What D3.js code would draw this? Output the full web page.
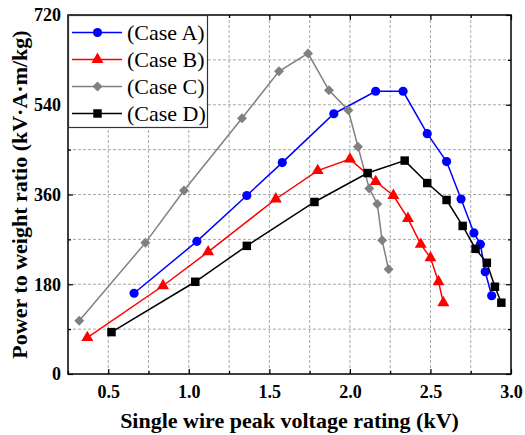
<!DOCTYPE html>
<html>
<head>
<meta charset="utf-8">
<script src="https://cdn.jsdelivr.net/npm/d3@7"></script>
<style>
  html, body { margin: 0; padding: 0; background: #fff; }
  svg { display: block; }
  text { font-family: "Liberation Serif", "Times New Roman", serif; }
</style>
</head>
<body>
<svg id="chart" width="525" height="435"></svg>
<script>
// Series: single wire peak voltage (kV) vs power-to-weight ratio (kV·A·m/kg)
const caseAX = [0.66, 1.05, 1.36, 1.58, 1.90, 2.16, 2.33, 2.48, 2.60, 2.69, 2.77, 2.81, 2.84, 2.88];
const caseAY = [162, 266, 358, 424, 522, 567, 567, 482, 426, 351, 283, 260, 205, 157];

const caseBX = [0.37, 0.84, 1.12, 1.54, 1.80, 2.00, 2.16, 2.27, 2.36, 2.44, 2.50, 2.55, 2.58];
const caseBY = [73, 177, 245, 351, 408, 431, 386, 358, 312, 260, 233, 185, 143];

const caseCX = [0.32, 0.73, 0.97, 1.33, 1.56, 1.74, 1.87, 1.99, 2.05, 2.12, 2.17, 2.20, 2.24];
const caseCY = [107, 263, 368, 513, 607, 643, 569, 529, 456, 372, 341, 268, 210];

const caseDX = [0.52, 1.04, 1.36, 1.78, 2.11, 2.34, 2.48, 2.60, 2.70, 2.78, 2.85, 2.90, 2.94];
const caseDY = [84, 185, 257, 345, 403, 428, 383, 349, 297, 251, 223, 175, 143];

const seriesNames = ["(Case A)", "(Case B)", "(Case C)", "(Case D)"];
const xTicks = [0.5, 1.0, 1.5, 2.0, 2.5, 3.0];
const yTicks = [0, 180, 360, 540, 720];

// Diamonds are squares turned by 45 degrees
const series = [
  { name: seriesNames[0], xs: caseAX, ys: caseAY, color: "#0000ff", symbol: d3.symbolCircle, size: 66, rot: 0 },
  { name: seriesNames[1], xs: caseBX, ys: caseBY, color: "#ff0000", symbol: d3.symbolTriangle, size: 62, rot: 0 },
  { name: seriesNames[2], xs: caseCX, ys: caseCY, color: "#808080", symbol: d3.symbolSquare, size: 50, rot: 45 },
  { name: seriesNames[3], xs: caseDX, ys: caseDY, color: "#000000", symbol: d3.symbolSquare, size: 72, rot: 0 }
];

const plotL = 68, plotR = 511, plotT = 15, plotB = 374;
const svg = d3.select("#chart");

const x = d3.scaleLinear().domain([0.25, 3.0]).range([plotL, plotR]);
const y = d3.scaleLinear().domain([0, 720]).range([plotB, plotT]);

// Dashed grid at every major and minor step
const gridX = d3.range(0.5, 3.0, 0.25);
const gridY = d3.range(90, 720, 90);
const grid = svg.append("g").attr("stroke", "#a8a8a8").attr("stroke-width", 1).attr("stroke-dasharray", "3,2");
grid.selectAll("line.gx").data(gridX).join("line").attr("class", "gx")
  .attr("x1", d => x(d)).attr("x2", d => x(d)).attr("y1", plotT).attr("y2", plotB);
grid.selectAll("line.gy").data(gridY).join("line").attr("class", "gy")
  .attr("y1", d => y(d)).attr("y2", d => y(d)).attr("x1", plotL).attr("x2", plotR);

// Axes with inward ticks on all four sides
const minorX = d3.range(0.25, 3.01, 0.25).filter(v => Math.abs(v * 2 - Math.round(v * 2)) > 1e-6);
const minorY = d3.range(90, 720, 180);

function styleAxis(g) {
  g.select(".domain").remove();
  g.selectAll("line").attr("stroke", "#000").attr("stroke-width", 1.2);
  g.selectAll("text").attr("font-weight", "bold").attr("font-size", 18).attr("fill", "#000");
}

svg.append("g").attr("transform", `translate(0,${plotB})`)
  .call(d3.axisBottom(x).tickValues(xTicks).tickFormat(d3.format(".1f")).tickSizeInner(-5).tickSizeOuter(0).tickPadding(11))
  .call(styleAxis);
svg.append("g").attr("transform", `translate(0,${plotB})`)
  .call(d3.axisBottom(x).tickValues(minorX).tickFormat("").tickSizeInner(-3).tickSizeOuter(0))
  .call(styleAxis);
svg.append("g").attr("transform", `translate(0,${plotT})`)
  .call(d3.axisTop(x).tickValues(xTicks).tickFormat("").tickSizeInner(-5).tickSizeOuter(0))
  .call(styleAxis);
svg.append("g").attr("transform", `translate(0,${plotT})`)
  .call(d3.axisTop(x).tickValues(minorX).tickFormat("").tickSizeInner(-3).tickSizeOuter(0))
  .call(styleAxis);

svg.append("g").attr("transform", `translate(${plotL},0)`)
  .call(d3.axisLeft(y).tickValues(yTicks).tickSizeInner(-5).tickSizeOuter(0).tickPadding(7))
  .call(styleAxis);
svg.append("g").attr("transform", `translate(${plotL},0)`)
  .call(d3.axisLeft(y).tickValues(minorY).tickFormat("").tickSizeInner(-3).tickSizeOuter(0))
  .call(styleAxis);
svg.append("g").attr("transform", `translate(${plotR},0)`)
  .call(d3.axisRight(y).tickValues(yTicks).tickFormat("").tickSizeInner(-5).tickSizeOuter(0))
  .call(styleAxis);
svg.append("g").attr("transform", `translate(${plotR},0)`)
  .call(d3.axisRight(y).tickValues(minorY).tickFormat("").tickSizeInner(-3).tickSizeOuter(0))
  .call(styleAxis);

// Plot frame
svg.append("rect").attr("x", plotL).attr("y", plotT).attr("width", plotR - plotL).attr("height", plotB - plotT)
  .attr("fill", "none").attr("stroke", "#000").attr("stroke-width", 1.5);

// Series lines and markers
const line = d3.line().x(d => x(d[0])).y(d => y(d[1]));
series.forEach(s => {
  const pts = s.xs.map((v, i) => [v, s.ys[i]]);
  const g = svg.append("g");
  g.append("path").datum(pts).attr("d", line)
    .attr("fill", "none").attr("stroke", s.color).attr("stroke-width", 1.5);
  g.selectAll("path.m").data(pts).join("path").attr("class", "m")
    .attr("transform", d => `translate(${x(d[0])},${y(d[1])}) rotate(${s.rot})`)
    .attr("d", d3.symbol().type(s.symbol).size(s.size))
    .attr("fill", s.color);
});

// Legend
const lg = svg.append("g");
lg.append("rect").attr("x", plotL + 0.5).attr("y", plotT + 0.5).attr("width", 139).attr("height", 112)
  .attr("fill", "#fff").attr("stroke", "#333").attr("stroke-width", 1.2);
series.forEach((s, i) => {
  const cy = 32.5 + i * 27;
  lg.append("line").attr("x1", 72).attr("x2", 122).attr("y1", cy).attr("y2", cy)
    .attr("stroke", s.color).attr("stroke-width", 1.5);
  lg.append("path").attr("transform", `translate(97.5,${cy}) rotate(${s.rot})`)
    .attr("d", d3.symbol().type(s.symbol).size(s.size)).attr("fill", s.color);
  lg.append("text").attr("x", 127).attr("y", cy).attr("dy", "0.35em")
    .attr("font-size", 22).attr("fill", "#000").text(s.name);
});

// Axis titles
svg.append("text").attr("x", (plotL + plotR) / 2).attr("y", 428)
  .attr("text-anchor", "middle").attr("font-weight", "bold").attr("font-size", 22)
  .text("Single wire peak voltage rating (kV)");
svg.append("text").attr("transform", `translate(27,${(plotT + plotB) / 2}) rotate(-90)`)
  .attr("text-anchor", "middle").attr("font-weight", "bold").attr("font-size", 22)
  .text("Power to weight ratio (kV·A·m/kg)");
</script>
</body>
</html>
